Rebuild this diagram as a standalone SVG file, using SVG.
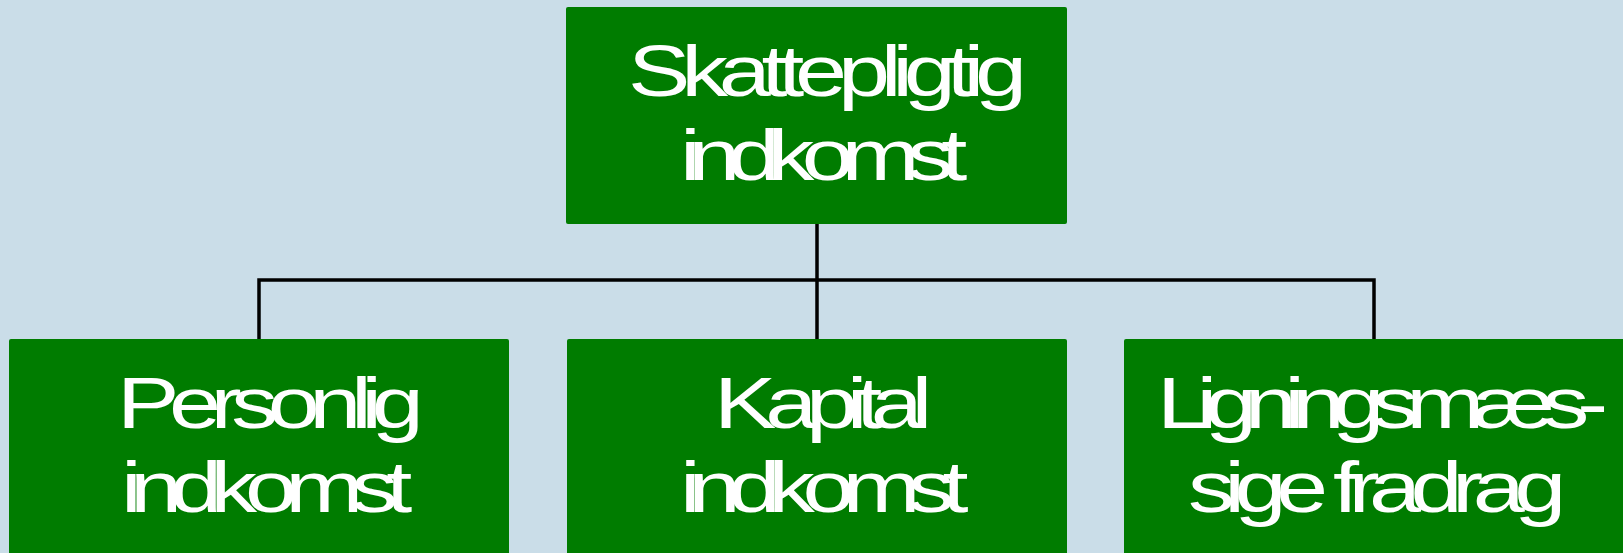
<svg xmlns="http://www.w3.org/2000/svg" width="1623" height="553" viewBox="0 0 1623 553">
<style>
.bg{fill:#CADDE8}
.box{fill:#007C00}
.lbl{font-family:"Liberation Sans",Arial,sans-serif;font-size:72px;fill:#FFFFFF}
.con{stroke:#000000;stroke-width:3.5;fill:none;stroke-linecap:square}
</style>
<rect class="bg" x="0" y="0" width="1623" height="553"/>
<g id="connectors">
<path class="con" d="M817,224 V280 M259,280 H1374 M259,280 V339 M817,280 V339 M1374,280 V339"/>
</g>
<g id="node-skattepligtig">
<rect class="box" x="566" y="7" width="501" height="217" rx="2"/>
<text class="lbl" transform="translate(628,96) scale(1.3,1)" textLength="307" lengthAdjust="spacing">Skattepligtig</text>
<text class="lbl" transform="translate(680,180) scale(1.3,1)" textLength="221" lengthAdjust="spacing">indkomst</text>
</g>
<g id="node-personlig">
<rect class="box" x="9" y="339" width="500" height="230" rx="2"/>
<text class="lbl" transform="translate(117,428) scale(1.3,1)" textLength="236" lengthAdjust="spacing">Personlig</text>
<text class="lbl" transform="translate(121,512) scale(1.3,1)" textLength="224" lengthAdjust="spacing">indkomst</text>
</g>
<g id="node-kapital">
<rect class="box" x="567" y="339" width="500" height="230" rx="2"/>
<text class="lbl" transform="translate(714,428) scale(1.3,1)" textLength="168" lengthAdjust="spacing">Kapital</text>
<text class="lbl" transform="translate(680,512) scale(1.3,1)" textLength="222" lengthAdjust="spacing">indkomst</text>
</g>
<g id="node-ligning">
<rect class="box" x="1124" y="339" width="520" height="230" rx="2"/>
<text class="lbl" transform="translate(1157,428) scale(1.3,1)" textLength="347" lengthAdjust="spacing">Ligningsmæs-</text>
<text class="lbl" transform="translate(1188,512) scale(1.3,1)" textLength="291" lengthAdjust="spacing">sige fradrag</text>
</g>
</svg>
